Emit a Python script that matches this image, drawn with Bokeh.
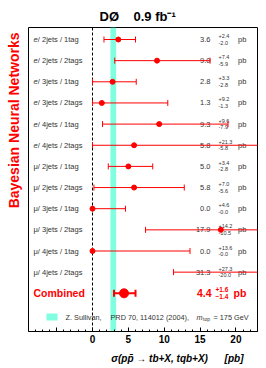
from math import pi
from bokeh.plotting import figure
from bokeh.models import Range1d, FixedTicker, Span, BoxAnnotation, ColumnDataSource, Title
from bokeh.core.properties import value
from bokeh.embed import file_html
from bokeh.resources import INLINE

# ---------------- data ----------------
leptons = ["e"] * 6 + ["μ"] * 6
channels = ["2jets / 1tag", "2jets / 2tags", "3jets / 1tag", "3jets / 2tags",
            "4jets / 1tag", "4jets / 2tags"] * 2
xsec = [3.6, 9.0, 2.8, 1.3, 9.3, 5.8, 5.0, 5.8, 0.0, 17.9, 0.0, 31.3]
err_up = [2.4, 7.4, 3.3, 9.2, 9.6, 21.3, 3.4, 7.0, 4.6, 14.2, 13.6, 27.3]
err_dn = [2.0, 5.9, 2.8, 1.3, 7.9, 5.8, 2.8, 5.6, 0.0, 10.5, 0.0, 20.0]
comb_label = "Combined"
comb_xsec = 4.4
comb_up = 1.6
comb_dn = 1.4
theory_xsec = 2.9
theory_err = 0.4
x_ticks = [-5, 0, 5, 10, 15, 20]
x_minor = list(range(-8, 24))
NB = "\u00a0"
title_text = "DØ" + NB * 4 + "0.9" + NB + "fb⁻¹"
y_title = "Bayesian Neural Networks"
x_title = "σ(pp\u0304 → tb+X, tqb+X)" + NB * 6 + "[pb]"

# ---------------- geometry helpers (pixel -> data) ----------------
X_ZERO, X_SCALE = 92.0, 7.17
Y_FIRST, Y_STEP = 39.0, 21.15
def px_x(px):
    return (px - X_ZERO) / X_SCALE
def px_y(py):
    return (py - Y_FIRST) / Y_STEP

FONT = "Liberation Sans"
TXT = "#333333"
RED = "#ff0000"

p = figure(width=266, height=368, output_backend="svg", toolbar_location=None,
           x_range=Range1d(px_x(28), px_x(257)), y_range=Range1d(px_y(331), px_y(27)),
           y_axis_location=None, min_border_left=28, min_border_right=9,
           min_border_top=27, min_border_bottom=37, title=title_text)
p.xgrid.visible = False
p.ygrid.visible = False
p.outline_line_color = "black"
p.outline_line_width = 1
p.background_fill_color = "white"
p.border_fill_color = "white"

p.title.align = "left"
p.title.offset = 71
p.title.text_font = FONT
p.title.text_font_size = "13px"
p.title.text_font_style = "bold"
p.title.text_color = "black"
p.title.standoff = 8

p.add_layout(Title(text=y_title, align="right", vertical_align="top", text_font=FONT,
                   text_font_size="14px", text_font_style="bold", text_color=RED,
                   standoff=10, offset=5), "left")

ax = p.xaxis[0]
ax.ticker = FixedTicker(ticks=x_ticks, minor_ticks=x_minor)
ax.major_label_overrides = {-5: ""}
ax.major_tick_in = 4
ax.major_tick_out = 0
ax.minor_tick_in = 2
ax.minor_tick_out = 0
ax.axis_line_color = "black"
ax.major_tick_line_color = "black"
ax.minor_tick_line_color = "black"
ax.major_label_text_font = FONT
ax.major_label_text_font_style = "bold"
ax.major_label_text_font_size = "10px"
ax.major_label_text_color = "black"
ax.major_label_standoff = 3

p.add_layout(Title(text=x_title, align="right", text_font=FONT, text_font_size="10px",
                   text_font_style="bold italic", text_color="black", standoff=10,
                   offset=14), "below")

# theory band and zero line
p.add_layout(BoxAnnotation(left=theory_xsec - theory_err, right=theory_xsec + theory_err,
                           fill_color="#80ffe0", fill_alpha=1, line_alpha=0, level="underlay"))
p.add_layout(Span(location=0, dimension="height", line_color="black", line_width=1,
                  line_dash="3 2", level="underlay"))

rows = list(range(len(xsec)))
src = ColumnDataSource(dict(
    y=rows,
    y_up=[r - 3.5 / Y_STEP for r in rows],
    y_dn=[r + 3.0 / Y_STEP for r in rows],
    lep=leptons,
    lep_style=["italic" if l == "e" else "normal" for l in leptons],
    ch=[" / " + c for c in channels],
    val=[f"{v:.1f}" for v in xsec],
    up=[f"+{u:.1f}" for u in err_up],
    dn=[f"-{d:.1f}" for d in err_dn],
    x=xsec,
    lo=[v - d for v, d in zip(xsec, err_dn)],
    hi=[v + u for v, u in zip(xsec, err_up)],
))

common = dict(text_font=value(FONT), text_color=TXT, text_baseline="middle")
p.text(x=px_x(33), y="y", text="lep", source=src, text_font_size="7.5px",
       text_font_style="lep_style", **common)
p.text(x=px_x(33), y="y", text="ch", source=src, x_offset=4.3, text_font_size="7.5px", **common)
p.text(x=px_x(210), y="y", text="val", source=src, text_font_size="7.5px",
       text_align="right", **common)
p.text(x=px_x(218), y="y_up", text="up", source=src, text_font_size="5.5px", **common)
p.text(x=px_x(218), y="y_dn", text="dn", source=src, text_font_size="5.5px", **common)
p.text(x=px_x(237.5), y="y", text=value("pb"), source=src, text_font_size="7.5px", **common)

p.segment(x0="lo", y0="y", x1="hi", y1="y", source=src, line_color=RED, line_width=1)
p.scatter(x="lo", y="y", source=src, marker="dash", angle=pi / 2, size=6, line_color=RED)
p.scatter(x="hi", y="y", source=src, marker="dash", angle=pi / 2, size=6, line_color=RED)
p.scatter(x="x", y="y", source=src, marker="circle", size=5, color=RED)

# combined
cy = len(xsec)
csrc = ColumnDataSource(dict(
    y=[cy], y_up=[cy - 3.5 / Y_STEP], y_dn=[cy + 3.5 / Y_STEP],
    x=[comb_xsec], lo=[comb_xsec - comb_dn], hi=[comb_xsec + comb_up],
    lab=[comb_label], val=[f"{comb_xsec:.1f}"], up=[f"+{comb_up:.1f}"], dn=[f"−{comb_dn:.1f}"],
))
ccom = dict(text_font=value(FONT), text_color=RED, text_baseline="middle", text_font_style="bold")
p.text(x=px_x(33), y="y", text="lab", source=csrc, text_font_size="10.5px", **ccom)
p.text(x=px_x(211), y="y", text="val", source=csrc, text_font_size="10.5px", text_align="right", **ccom)
p.text(x=px_x(215), y="y_up", text="up", source=csrc, text_font_size="6.5px", **ccom)
p.text(x=px_x(215), y="y_dn", text="dn", source=csrc, text_font_size="6.5px", **ccom)
p.text(x=px_x(233), y="y", text=value("pb"), source=csrc, text_font_size="10.5px", **ccom)
p.segment(x0="lo", y0="y", x1="hi", y1="y", source=csrc, line_color=RED, line_width=2)
p.scatter(x="lo", y="y", source=csrc, marker="dash", angle=pi / 2, size=7, line_color=RED, line_width=2)
p.scatter(x="hi", y="y", source=csrc, marker="dash", angle=pi / 2, size=7, line_color=RED, line_width=2)
p.scatter(x="x", y="y", source=csrc, marker="circle", size=9, color=RED)

# legend line
ly = px_y(316.5)
p.rect(x=px_x(51.5), y=ly, width=11, height=7, width_units="screen", height_units="screen",
       fill_color="#80ffe0", line_alpha=0)
lcom = dict(text_font=value(FONT), text_color=TXT, text_baseline="middle", text_font_size="7.3px")
p.text(x=px_x(65), y=ly, text=value("Z. Sullivan,"), **lcom)
p.text(x=px_x(110), y=ly, text=value("PRD 70, 114012 (2004),"), **lcom)
p.text(x=px_x(196), y=ly, text=value("m"), text_font_style="italic", **lcom)
p.text(x=px_x(202.5), y=ly + 2 / Y_STEP, text=value("top"), text_font_size="5px",
       text_font=value(FONT), text_color=TXT, text_baseline="middle")
p.text(x=px_x(213), y=ly, text=value("= 175 GeV"), **lcom)

open("out.html", "w").write(file_html(p, INLINE))
